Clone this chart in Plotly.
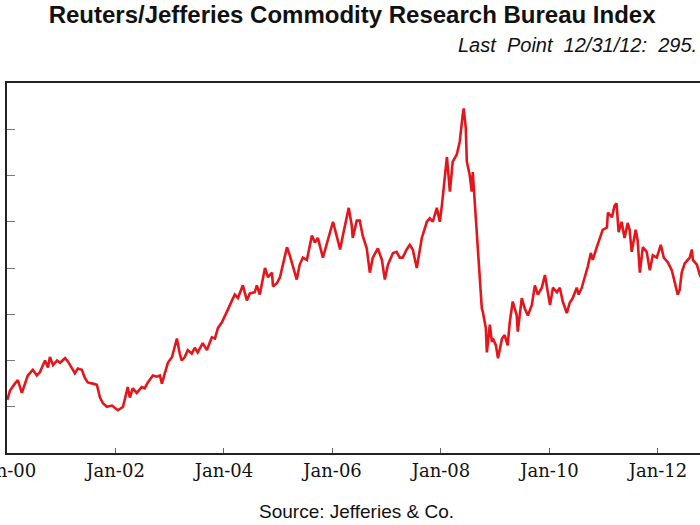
import pandas as pd
import plotly.graph_objects as go

line_color = "#e4161b"

# weekly-ish readings of the index, taken off the chart
dates = [
    "2000-01-03", "2000-01-21", "2000-02-23", "2000-03-14", "2000-04-10", "2000-05-01",
    "2000-05-20", "2000-06-23", "2000-07-20", "2000-08-10", "2000-09-13", "2000-10-03",
    "2000-10-16", "2000-11-06", "2000-12-03", "2000-12-23", "2001-01-26", "2001-02-15",
    "2001-03-12", "2001-04-02", "2001-04-22", "2001-05-19", "2001-06-08", "2001-06-28",
    "2001-08-01", "2001-08-28", "2001-09-18", "2001-10-08", "2001-11-04", "2001-12-08",
    "2001-12-28", "2002-01-17", "2002-02-20", "2002-03-24", "2002-04-07", "2002-04-27",
    "2002-05-23", "2002-06-26", "2002-07-16", "2002-08-06", "2002-09-09", "2002-10-06",
    "2002-10-26", "2002-11-09", "2002-11-29", "2002-12-19", "2003-01-16", "2003-02-18",
    "2003-03-09", "2003-03-22", "2003-04-12", "2003-05-02", "2003-05-29", "2003-06-18",
    "2003-07-08", "2003-08-11", "2003-09-08", "2003-10-11", "2003-11-01", "2003-11-21",
    "2003-12-18", "2004-01-07", "2004-01-27", "2004-02-24", "2004-03-14", "2004-04-04",
    "2004-05-07", "2004-06-03", "2004-06-23", "2004-07-26", "2004-08-09", "2004-08-29",
    "2004-10-03", "2004-10-23", "2004-11-19", "2004-11-26", "2004-12-23", "2005-01-12",
    "2005-02-28", "2005-03-19", "2005-04-08", "2005-05-05", "2005-05-25", "2005-06-15",
    "2005-07-12", "2005-08-15", "2005-09-04", "2005-09-24", "2005-10-28", "2005-11-24",
    "2006-01-04", "2006-02-01", "2006-02-21", "2006-03-11", "2006-04-07", "2006-04-20",
    "2006-05-10", "2006-05-17", "2006-06-13", "2006-07-03", "2006-07-23", "2006-08-19",
    "2006-09-09", "2006-09-29", "2006-11-02", "2006-11-29", "2006-12-19", "2007-01-09",
    "2007-02-12", "2007-03-08", "2007-03-29", "2007-04-18", "2007-05-15", "2007-06-05",
    "2007-06-25", "2007-07-22", "2007-08-25", "2007-09-28", "2007-10-18", "2007-11-07",
    "2007-12-04", "2007-12-24", "2008-01-07", "2008-01-27", "2008-02-10", "2008-03-01",
    "2008-03-20", "2008-04-16", "2008-05-06", "2008-05-26", "2008-06-02", "2008-06-16",
    "2008-06-23", "2008-07-13", "2008-07-26", "2008-08-02", "2008-08-16", "2008-08-29",
    "2008-09-05", "2008-09-19", "2008-10-02", "2008-10-09", "2008-10-29", "2008-11-05",
    "2008-11-25", "2008-12-09", "2008-12-16", "2009-01-05", "2009-01-19", "2009-02-15",
    "2009-03-05", "2009-03-25", "2009-04-08", "2009-04-28", "2009-05-25", "2009-06-01",
    "2009-06-28", "2009-07-18", "2009-08-08", "2009-09-04", "2009-09-24", "2009-10-14",
    "2009-11-10", "2009-12-01", "2009-12-21", "2010-01-04", "2010-01-24", "2010-02-20",
    "2010-03-11", "2010-03-31", "2010-04-27", "2010-05-17", "2010-06-06", "2010-07-03",
    "2010-07-16", "2010-08-06", "2010-08-26", "2010-09-15", "2010-10-06", "2010-10-19",
    "2010-11-15", "2010-12-05", "2010-12-25", "2011-01-22", "2011-01-29", "2011-02-25",
    "2011-03-15", "2011-03-28", "2011-04-11", "2011-05-01", "2011-05-21", "2011-06-11",
    "2011-06-24", "2011-07-08", "2011-08-04", "2011-08-17", "2011-09-01", "2011-09-21",
    "2011-10-17", "2011-11-07", "2011-11-27", "2011-12-24", "2012-01-20", "2012-02-09",
    "2012-03-07", "2012-04-03", "2012-04-23", "2012-05-13", "2012-05-26", "2012-06-09",
    "2012-06-29", "2012-08-02", "2012-08-16", "2012-08-23", "2012-09-19", "2012-10-09",
    "2012-11-15", "2012-12-31",
]

index_values = [
    206, 214, 220, 223, 212, 219, 227, 232, 227, 230, 240, 234,
    243, 236, 240, 238, 242, 239, 234, 229, 233, 232, 225, 221,
    220, 219, 208, 203, 200, 201, 199, 197, 200, 217, 208, 216,
    212, 217, 216, 221, 227, 226, 227, 220, 229, 238, 243, 259,
    246, 240, 243, 249, 246, 251, 247, 255, 249, 260, 259, 268,
    273, 278, 284, 292, 297, 294, 305, 292, 298, 299, 305, 297,
    320, 312, 316, 304, 307, 312, 338, 331, 321, 310, 323, 329,
    327, 348, 342, 346, 329, 342, 360, 346, 336, 348, 363, 372,
    357, 346, 361, 361, 348, 337, 316, 329, 337, 327, 310, 323,
    333, 334, 329, 329, 336, 340, 336, 320, 346, 360, 363, 360,
    372, 360, 374, 398, 416, 386, 412, 418, 429, 452, 458, 441,
    412, 400, 386, 403, 374, 355, 331, 303, 285, 282, 268, 247,
    271, 256, 259, 253, 242, 259, 262, 253, 273, 291, 279, 265,
    294, 285, 279, 288, 305, 297, 303, 314, 299, 288, 303, 299,
    303, 291, 281, 290, 294, 303, 297, 303, 312, 321, 333, 327,
    338, 346, 353, 355, 368, 364, 374, 376, 351, 360, 346, 359,
    353, 334, 353, 344, 316, 338, 334, 318, 331, 329, 340, 329,
    325, 318, 307, 297, 301, 316, 324, 329, 336, 327, 323, 314,
    305, 307,
]

df = pd.DataFrame({"date": pd.to_datetime(dates), "value": index_values})

fig = go.Figure()
fig.add_trace(go.Scatter(x=df.date, y=df.value, mode="lines",
                         line=dict(color=line_color, width=2.6), showlegend=False))

fig.update_layout(
    width=700, height=525,
    margin=dict(l=7, r=0, t=83, b=72, autoexpand=False),
    paper_bgcolor="white", plot_bgcolor="white",
    title=dict(text="<b>Reuters/Jefferies Commodity Research Bureau Index</b>",
               x=0.503, xanchor="center", y=0.973, yanchor="middle",
               font=dict(family="Liberation Sans, Arial", size=24, color="#111")),
    annotations=[
        dict(text="<i>Last  Point  12/31/12:  295.</i>", xref="paper", yref="paper",
             x=0.648, y=1.103, xanchor="left", yanchor="middle", showarrow=False,
             font=dict(family="Liberation Sans, Arial", size=20, color="#111")),
        dict(text="Source: Jefferies & Co.", xref="paper", yref="paper",
             x=0.505, y=-0.157, xanchor="center", yanchor="middle", showarrow=False,
             font=dict(family="Liberation Sans, Arial", size=19, color="#111")),
    ],
)

fig.update_xaxes(
    range=["2000-01-01", "2012-10-10"],
    tick0="2000-01-01", dtick="M24", tickformat="%b-%y",
    ticks="inside", ticklen=5, tickcolor="#666", tickwidth=1,
    ticklabeloverflow="allow", automargin=False,
    showline=True, linecolor="#222", linewidth=2, mirror=True,
    showgrid=False, zeroline=False,
    tickfont=dict(family="DejaVu Serif", size=18, color="#111"),
)
fig.update_yaxes(
    range=[160, 480], dtick=40, automargin=False,
    ticks="inside", ticklen=8, tickcolor="#777", tickwidth=1,
    showline=True, linecolor="#222", linewidth=2,
    showgrid=False, zeroline=False, showticklabels=False,
)

# page body has a default 8px margin; drop it so the figure sits at the corner
fig.write_html("out.html", config={"displayModeBar": False},
               post_script="document.body.style.margin='0';")
